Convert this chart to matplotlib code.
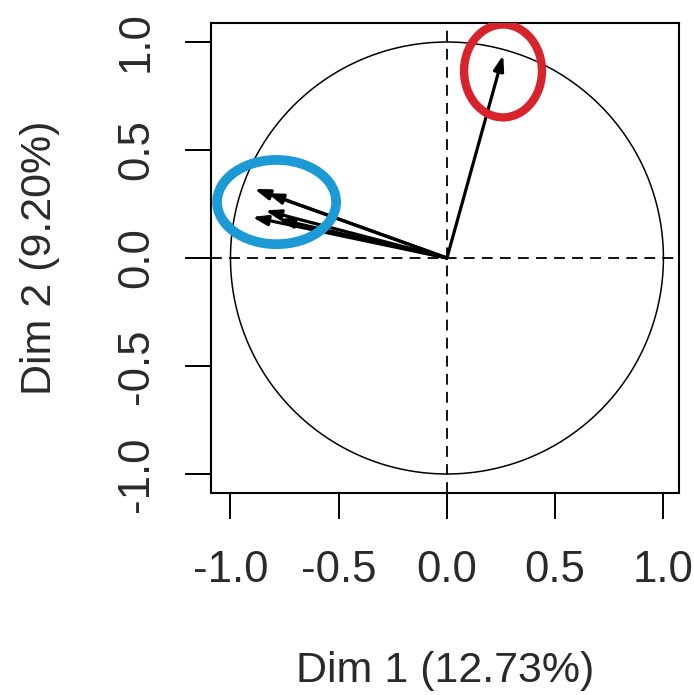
import numpy as np
import matplotlib
matplotlib.use("Agg")
import matplotlib.pyplot as plt
from matplotlib.patches import Ellipse

plt.rcParams['font.family'] = ['Liberation Sans', 'DejaVu Sans']

# variable coordinates on the first two dimensions
var_dim1 = [-0.89, -0.83, -0.90, -0.84, -0.78, 0.26]
var_dim2 = [0.32, 0.30, 0.19, 0.22, 0.18, 0.94]

# highlighted groups: centre x, centre y, width, height, colour
groups_x = [-0.787, 0.259]
groups_y = [0.259, 0.866]
groups_w = [0.55, 0.36]
groups_h = [0.39, 0.43]
groups_col = ['#1b9ad6', '#d8232c']
groups_lw = [7.0, 6.0]

ticks = [-1.0, -0.5, 0.0, 0.5, 1.0]
tick_labels = ['-1.0', '-0.5', '0.0', '0.5', '1.0']
xlab = 'Dim 1 (12.73%)'
ylab = 'Dim 2 (9.20%)'

fig = plt.figure(figsize=(6.94, 6.95), dpi=100)
W, H = 694, 695
ax = fig.add_axes([211 / W, 1 - 493 / H, (679 - 211) / W, (493 - 23) / H])
ax.set_xlim(-1.09, 1.072)
ax.set_ylim(-1.088, 1.088)

# unit circle
t = np.linspace(0, 2 * np.pi, 400)
ax.plot(np.cos(t), np.sin(t), color='black', lw=1.1)

# axes through the origin
ax.axhline(0, color='black', lw=1.3, dashes=(6, 4))
ax.axvline(0, color='black', lw=1.3, dashes=(6, 4))

# variable arrows
for x, y in zip(var_dim1, var_dim2):
    ax.annotate('', xy=(x, y), xytext=(0, 0),
                arrowprops=dict(arrowstyle='-|>,head_length=0.9,head_width=0.3',
                                color='black', lw=2.3, shrinkA=0, shrinkB=0))

for cx, cy, w, h, c, lw in zip(groups_x, groups_y, groups_w, groups_h, groups_col, groups_lw):
    ax.add_patch(Ellipse((cx, cy), w, h, fill=False, edgecolor=c, lw=lw, zorder=5))

ax.set_xticks(ticks)
ax.set_xticklabels(tick_labels)
ax.set_yticks(ticks)
ax.set_yticklabels(tick_labels, rotation=90, va='center')
ax.tick_params(direction='out', length=19, width=1.4, labelsize=31.5, color='black')
ax.tick_params(axis='x', pad=22)
ax.tick_params(axis='y', pad=20)
for s in ax.spines.values():
    s.set_linewidth(1.5)

ax.set_xlabel(xlab, fontsize=31, labelpad=43, color='#2a2a2a')
ax.set_ylabel(ylab, fontsize=31, labelpad=40, color='#2a2a2a')
for lab in ax.get_xticklabels() + ax.get_yticklabels():
    lab.set_color('#2a2a2a')

fig.savefig('out.png', dpi=100)
